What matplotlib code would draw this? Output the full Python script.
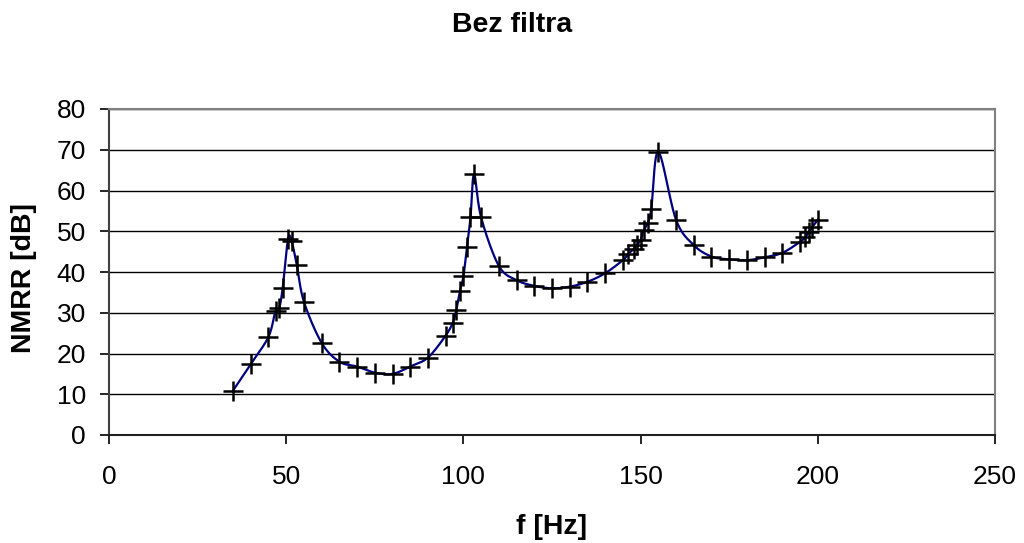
import numpy as np
import matplotlib
matplotlib.use("Agg")
import matplotlib.pyplot as plt

freq = [35, 40, 45, 47, 48, 49, 50.5, 51.5, 53, 55, 60, 65, 70, 75, 80, 85, 90,
        95, 97, 98, 99, 100, 101, 102, 103, 105, 110, 115, 120, 125, 130, 135,
        140, 145, 146.5, 148, 149, 150, 151, 152, 153, 155, 160, 165, 170, 175,
        180, 185, 190, 195, 196.5, 197.5, 198.5, 200]
nmrr = [10.9, 17.4, 24.1, 30.5, 31.1, 36.0, 48.0, 47.6, 41.7, 32.7, 22.6, 18.0,
        16.8, 15.3, 15.0, 16.8, 19.0, 24.4, 27.6, 30.7, 35.3, 38.9, 46.1, 53.4,
        64.0, 53.4, 41.5, 38.0, 36.6, 36.0, 36.4, 37.6, 39.7, 42.9, 44.4, 45.6,
        46.6, 47.9, 50.3, 52.1, 55.4, 69.5, 52.8, 46.6, 43.8, 43.1, 42.9, 43.6,
        44.7, 47.4, 48.5, 49.9, 51.1, 52.8]

title = "Bez filtra"
xlabel = "f [Hz]"
ylabel = "NMRR [dB]"


def smooth_curve(x, y, n=30, tension=1.0):
    x = np.asarray(x, float)
    y = np.asarray(y, float)
    px = np.concatenate([[x[0]], x, [x[-1]]])
    py = np.concatenate([[y[0]], y, [y[-1]]])
    ox, oy = [], []
    for i in range(1, len(px) - 2):
        p0 = np.array([px[i - 1], py[i - 1]])
        p1 = np.array([px[i], py[i]])
        p2 = np.array([px[i + 1], py[i + 1]])
        p3 = np.array([px[i + 2], py[i + 2]])
        c1 = p1 + (p2 - p0) * tension / 6
        c2 = p2 - (p3 - p1) * tension / 6
        t = np.linspace(0, 1, n)[:, None]
        b = ((1 - t) ** 3) * p1 + 3 * ((1 - t) ** 2) * t * c1 + 3 * (1 - t) * t ** 2 * c2 + t ** 3 * p2
        ox.extend(b[:, 0])
        oy.extend(b[:, 1])
    return np.array(ox), np.array(oy)


plt.rcParams['font.family'] = ['Liberation Sans', 'DejaVu Sans']

fig = plt.figure(figsize=(10.24, 5.43), dpi=100)
ax = fig.add_axes([109 / 1024, 1 - 435 / 543, (995 - 109) / 1024, (435 - 109) / 543])

sx, sy = smooth_curve(freq, nmrr, n=30, tension=1.0)
ax.plot(sx, sy, color='#000080', lw=1.6, zorder=3)
ax.plot(freq, nmrr, linestyle='none', marker='+', markersize=14, mew=1.8,
        color='black', zorder=4)

ax.set_xlim(0, 250)
ax.set_ylim(0, 80)
ax.set_xticks(np.arange(0, 251, 50))
ax.set_yticks(np.arange(0, 81, 10))
ax.yaxis.grid(True, color='black', lw=1.0)
ax.set_axisbelow(True)

for s in ['top', 'right']:
    ax.spines[s].set_color('#808080')
    ax.spines[s].set_linewidth(1.5)
ax.spines['left'].set_color('#404040')
ax.spines['left'].set_linewidth(1.5)
ax.spines['bottom'].set_color('#202020')
ax.spines['bottom'].set_linewidth(1.5)

ax.tick_params(axis='both', direction='out', length=6.5, width=1.2,
               labelsize=19, colors='black')
ax.tick_params(axis='x', pad=15)
ax.tick_params(axis='y', pad=10)

ax.set_xlabel(xlabel, fontsize=20.5, fontweight='bold', va='center', ha='center')
ax.xaxis.set_label_coords(0.5, (435 - 527) / 326)
ax.set_ylabel(ylabel, fontsize=20.5, fontweight='bold', va='center', ha='center')
ax.yaxis.set_label_coords((24 - 109) / 886, (435 - 278) / 326)
fig.text(0.5, 1 - 25 / 543, title, fontsize=20.5, fontweight='bold',
         ha='center', va='center')

fig.savefig('out.png', dpi=100)
